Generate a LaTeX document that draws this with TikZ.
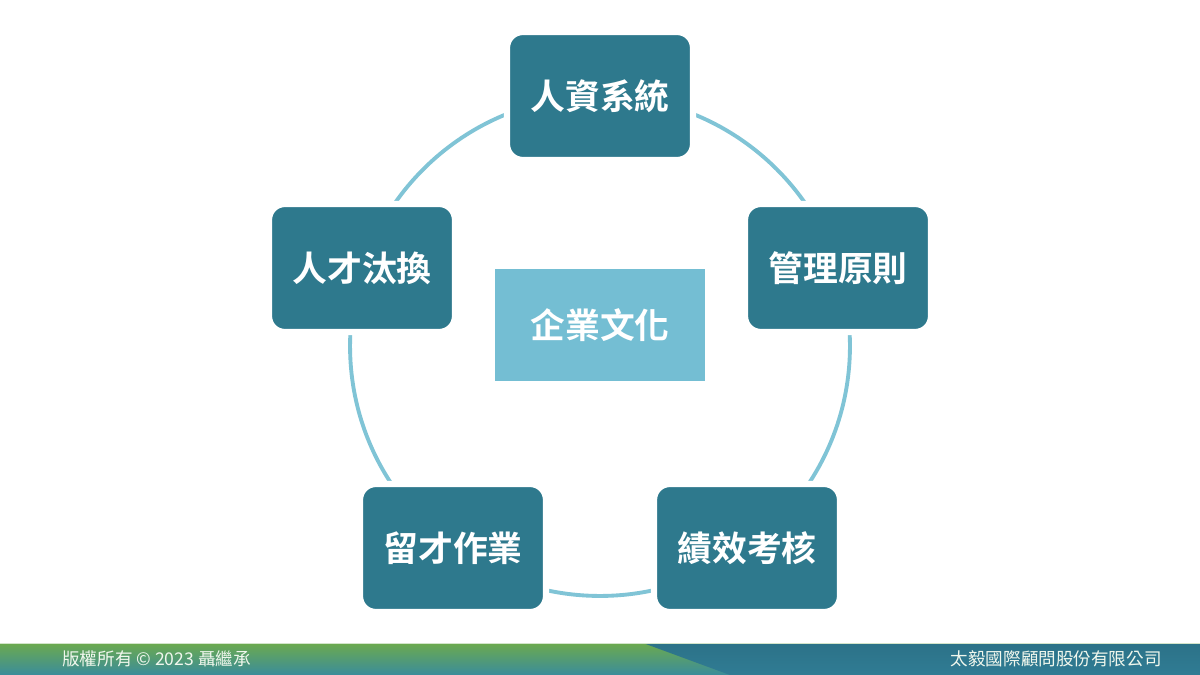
\documentclass[tikz,border=0pt]{standalone}
\usepackage{fontspec}
\setmainfont{Noto Sans CJK TC}
\newfontfamily\boldcjk{Noto Sans CJK TC Bold}
\usetikzlibrary{shadings}
\definecolor{boxteal}{RGB}{46,121,141}
\definecolor{corelight}{RGB}{116,190,211}
\definecolor{ringblue}{RGB}{128,196,214}
\definecolor{footgreen}{RGB}{108,170,78}
\definecolor{footteal}{RGB}{58,140,155}
\definecolor{footdark}{RGB}{44,114,136}
\definecolor{footdeep}{RGB}{48,124,148}

\begin{document}
\begin{tikzpicture}[x=0.02cm,y=-0.02cm,
    topic/.style ={rectangle, rounded corners=9pt, fill=boxteal, draw=white, line width=3.5pt,
      text=white, minimum width=3.72cm, minimum height=2.56cm,
      font=\boldcjk\fontsize{19.8}{19.8}\selectfont},
    core/.style ={rectangle, fill=corelight, text=white,
      minimum width=4.22cm, minimum height=2.26cm, font=\boldcjk\fontsize{19.8}{19.8}\selectfont},
    footnote/.style ={text=white!90!footgreen, font=\fontsize{10}{10}\selectfont, inner sep=0pt}]
   \useasboundingbox (0,0) rectangle (1200,675);
   \fill[white] (0,0) rectangle (1200,675);

   % ring behind the boxes
   \draw[ringblue, line width=2.2pt] (600,346) circle (5cm);

   \node[core] (culture) at (600,325) {企業文化};
   \node[topic] (hr)     at (600,96)  {人資系統};
   \node[topic] (rules)  at (838,268) {管理原則};
   \node[topic] (perf)   at (747,548) {績效考核};
   \node[topic] (retain) at (453,548) {留才作業};
   \node[topic] (renew)  at (362,268) {人才汰換};

   % footer band
   \shade[top color=footgreen, bottom color=footteal] (0,643) rectangle (1200,675);
   \shade[top color=footdark, bottom color=footdeep] (643,643) -- (1200,643) -- (1200,675) -- (730,675) -- cycle;
   \draw[white!70!footgreen, line width=0.6pt] (0,643.5) -- (1200,643.5);
   \node[footnote, anchor=west] (owner) at (62,659) {版權所有 © 2023 聶繼承};
   \node[footnote, anchor=east] (firm) at (1162,659) {太毅國際顧問股份有限公司};
 \end{tikzpicture}
\end{document}
